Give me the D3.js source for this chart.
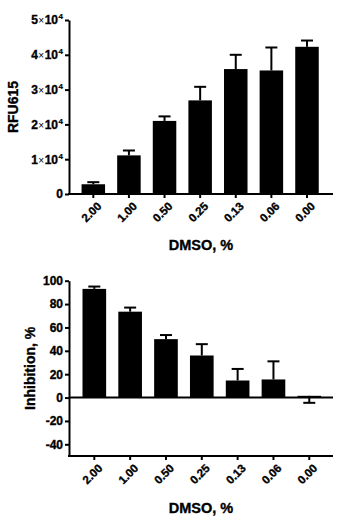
<!DOCTYPE html>
<html><head><meta charset="utf-8">
<script src="https://cdn.jsdelivr.net/npm/d3@7"></script>
<style>
html,body{margin:0;padding:0;background:#fff;}
svg{display:block;}
text{font-family:"Liberation Sans",Arial,sans-serif !important;font-weight:bold;fill:#000;stroke:#000;stroke-width:0.35px;}
</style></head>
<body>
<svg id="c" width="341" height="521"></svg>
<script>
const categories = ["2.00","1.00","0.50","0.25","0.13","0.06","0.00"];
const rfuValues = [2800, 11100, 21000, 26900, 35900, 35500, 42300];
const rfuSD = [600, 1400, 1300, 3900, 4100, 6600, 1800];
const rfuTicks = [0, 10000, 20000, 30000, 40000, 50000];
const inhibValues = [93, 73.5, 50, 36, 14.6, 15.5, 1.5];
const inhibSD = [2, 3.5, 3.5, 9.7, 9.9, 15.5, -6];
const inhibTicks = [-40, -20, 0, 20, 40, 60, 80, 100];
const xTitle = "DMSO, %";

const svg = d3.select("#c");

function panel(opt) {
  const g = svg.append("g");
  const x = d3.scaleBand().domain(categories).range(opt.xRange).paddingInner(0.34).paddingOuter(0.17);
  const y = d3.scaleLinear().domain(opt.yDomain).range(opt.yRange);
  const axisX0 = 69, axisX1 = 333;
  const yBase = y(0);

  g.selectAll("rect.bar").data(opt.values).join("rect")
    .attr("x", (d,i) => x(categories[i]))
    .attr("width", x.bandwidth())
    .attr("y", d => Math.min(y(d), yBase))
    .attr("height", d => Math.abs(y(d) - yBase))
    .attr("fill", "#000");

  const eb = g.selectAll("g.err").data(opt.values).join("g");
  eb.append("line")
    .attr("x1", (d,i) => x(categories[i]) + x.bandwidth()/2)
    .attr("x2", (d,i) => x(categories[i]) + x.bandwidth()/2)
    .attr("y1", d => y(d))
    .attr("y2", (d,i) => y(d + opt.sd[i]))
    .attr("stroke", "#000").attr("stroke-width", 2);
  eb.append("line")
    .attr("x1", (d,i) => x(categories[i]) + x.bandwidth()/2 - 6)
    .attr("x2", (d,i) => x(categories[i]) + x.bandwidth()/2 + 6)
    .attr("y1", (d,i) => y(d + opt.sd[i]))
    .attr("y2", (d,i) => y(d + opt.sd[i]))
    .attr("stroke", "#000").attr("stroke-width", 2);

  const ya = g.append("g").attr("transform", `translate(${axisX0},0)`)
    .call(d3.axisLeft(y).tickValues(opt.ticks).tickSize(4).tickSizeOuter(0).tickFormat(d => d));
  ya.select(".domain").attr("stroke-width", 2);
  ya.selectAll(".tick line").attr("stroke-width", 2);
  ya.selectAll(".tick text").attr("x", -6).style("font-size", "12px");
  if (opt.sup) {
    ya.selectAll(".tick text").text(null).each(function(d) {
      const t = d3.select(this);
      if (d === 0) { t.text("0"); return; }
      const m = Math.round(d / 10000);
      t.append("tspan").text(m);
      t.append("tspan").text("\u00d7").style("font-size", "10px").style("font-weight", "normal").style("stroke-width", "0px").attr("dx", 0.5);
      t.append("tspan").text("10").attr("dx", 0.5);
      t.append("tspan").text("4").style("font-size", "8px").style("stroke-width", "0.2px").attr("dx", 0.5).attr("dy", -5);
    });
  }

  if (opt.zeroLine) {
    g.append("line").attr("x1", axisX0).attr("x2", axisX1)
      .attr("y1", yBase).attr("y2", yBase).attr("stroke", "#000").attr("stroke-width", 2);
  }

  const xBaseY = y(opt.yDomain[0]);
  const xa = g.append("g").attr("transform", `translate(0,${xBaseY})`)
    .call(d3.axisBottom(x).tickSize(4).tickSizeOuter(0));
  xa.select(".domain").remove();
  xa.append("line").attr("x1", axisX0 - 1).attr("x2", axisX1).attr("stroke", "#000").attr("stroke-width", 2);
  xa.selectAll(".tick line").attr("stroke-width", 2);
  xa.selectAll(".tick text")
    .style("font-size", "11.5px")
    .attr("text-anchor", "end")
    .attr("transform", "translate(6,10) rotate(-45)")
    .attr("y", 0).attr("dy", "0.35em");

  g.append("text").attr("x", 201).attr("y", opt.xTitleY)
    .attr("text-anchor", "middle").style("font-size", "14.5px").text(xTitle);

  g.append("text")
    .attr("transform", `translate(${opt.yTitleX},${(opt.yRange[0]+opt.yRange[1])/2}) rotate(-90)`)
    .attr("text-anchor", "middle").style("font-size", "14px").text(opt.yTitle);
}

panel({
  values: rfuValues, sd: rfuSD, ticks: rfuTicks,
  xRange: [75.5, 324.8], yDomain: [0, 50000], yRange: [194, 20],
  sup: true, yTitle: "RFU615", yTitleX: 17.5, xTitleY: 250
});

panel({
  values: inhibValues, sd: inhibSD, ticks: inhibTicks,
  xRange: [76.4, 327.2], yDomain: [-50, 100], yRange: [456, 280.7],
  zeroLine: true, yTitle: "Inhibition, %", yTitleX: 35, xTitleY: 513
});
</script>
</body></html>
